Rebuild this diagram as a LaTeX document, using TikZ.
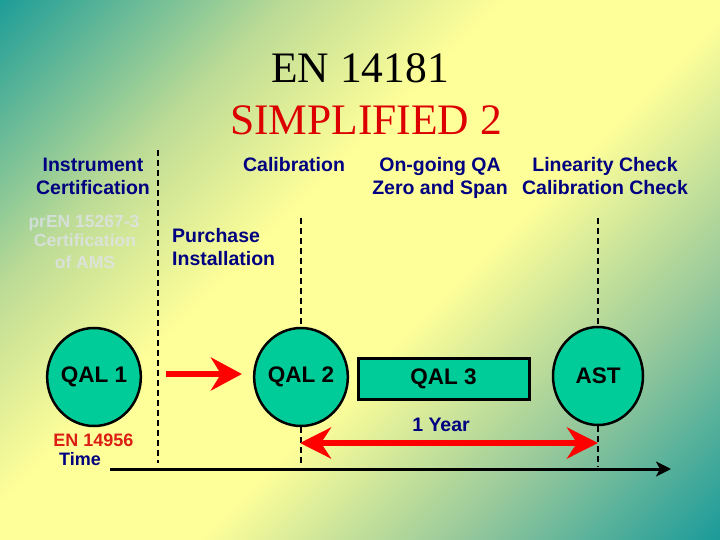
\documentclass[tikz,border=0pt]{standalone}
\usepackage{fontspec}
\setmainfont{Liberation Serif}
\newfontfamily\arial{Liberation Sans}
\usetikzlibrary{shapes.geometric,arrows.meta}
\definecolor{bgA}{RGB}{25,155,152}
\definecolor{bgB}{RGB}{190,220,150}
\definecolor{bgY}{RGB}{255,255,153}
\definecolor{bgC}{RGB}{150,200,155}
\definecolor{bgD}{RGB}{22,153,154}
\definecolor{navy}{RGB}{0,0,128}
\definecolor{qgreen}{RGB}{0,204,153}
\definecolor{tred}{RGB}{220,0,0}
\definecolor{enred}{RGB}{220,30,20}
\definecolor{faded}{RGB}{226,226,245}
\pgfdeclarehorizontalshading{bgshade}{100bp}{color(0bp)=(bgA); color(14bp)=(bgA); color(31bp)=(bgB); color(43bp)=(bgY); color(56bp)=(bgY); color(71bp)=(bgC); color(86bp)=(bgD); color(100bp)=(bgD)}
\begin{document}
\begin{tikzpicture}[x=1pt,y=-1pt,
  bluetxt/.style={font=\arial\bfseries\fontsize{19.5}{23}\selectfont, text=navy, anchor=base, inner sep=0pt},
  fadedtxt/.style={font=\arial\bfseries\fontsize{17.5}{21}\selectfont, text=faded, text opacity=0.7, anchor=base, inner sep=0pt},
  smalltxt/.style={font=\arial\bfseries\fontsize{18}{21}\selectfont, anchor=base, inner sep=0pt},
  titletxt/.style={font=\fontsize{43.5}{50}\selectfont, anchor=base, inner sep=0pt},
  qalnode/.style={ellipse, draw=black, line width=2.5pt, fill=qgreen, minimum width=90pt, minimum height=98pt, inner sep=0pt, font=\arial\bfseries\fontsize{22.5}{26}\selectfont},
  dashline/.style={line width=2pt, dash pattern=on 6pt off 4pt},
  redarrow/.style={draw=red, line width=6.5pt, -{Stealth[length=31pt,width=33pt,inset=10pt]}},
  redboth/.style={draw=red, line width=6.5pt, {Stealth[length=31pt,width=31pt,inset=10pt]}-{Stealth[length=31pt,width=31pt,inset=10pt]}}
]
\useasboundingbox (0,0) rectangle (720,540);
\shade[shading=bgshade, shading angle=-45] (0,0) rectangle (720,540);

% title
\node[titletxt] (t1) at (360,83) {EN 14181};
\node[titletxt, text=tred] (t2) at (366,135) {SIMPLIFIED 2};

% header texts
\node[bluetxt] (instr1) at (93,172) {Instrument};
\node[bluetxt] (instr2) at (93,195) {Certification};
\node[bluetxt] (cal) at (294,172) {Calibration};
\node[bluetxt] (ongo1) at (440,172) {On-going QA};
\node[bluetxt] (ongo2) at (440,195) {Zero and Span};
\node[bluetxt] (lin1) at (605,172) {Linearity Check};
\node[bluetxt] (lin2) at (605,195) {Calibration Check};

\node[fadedtxt] (pr1) at (84,227) {prEN 15267-3};
\node[fadedtxt] (pr2) at (85,247) {Certification};
\node[fadedtxt] (pr3) at (85,268) {of AMS};

\node[bluetxt, anchor=base west] (pur) at (172,242) {Purchase};
\node[bluetxt, anchor=base west] (inst) at (172,265) {Installation};

% nodes
\node[qalnode] (qal1) at (94,377) {QAL 1};
\node[qalnode] (qal2) at (301,377) {QAL 2};
\node[qalnode] (ast) at (598,376) {AST};
\node[draw=black, line width=3pt, fill=qgreen, minimum width=171pt, minimum height=41pt, inner sep=0pt,
      font=\arial\bfseries\fontsize{22.5}{26}\selectfont] (qal3) at (443.5,378.5) {\raisebox{-2pt}{QAL 3}};

% dashed lines
\coordinate (d1t) at (158,150);
\coordinate (d1b) at (158,463);
\coordinate (d2t) at (301,218);
\coordinate (d2b) at (301,467);
\coordinate (d3t) at (598,218);
\coordinate (d3b) at (598,467);
\draw[dashline] (d1t) -- (d1b);
\draw[dashline] (d2t) -- (qal2.north);
\draw[dashline] (qal2.south) -- (d2b);
\draw[dashline] (d3t) -- (ast.north);
\draw[dashline] (ast.south) -- (d3b);

% arrows
\draw[redarrow, shorten <=24pt, shorten >=11pt] ([yshift=3pt]qal1.east) -- ([yshift=3pt]qal2.west);
\coordinate (y1) at (300,443);
\coordinate (y2) at (598,443);
\draw[redboth] (y1) -- (y2);
\node[bluetxt] (year) at (441,431) {1 Year};

% time axis
\coordinate (ta) at (110,469);
\coordinate (tb) at (671,469);
\draw[line width=3pt, -{Stealth[length=15pt,width=15pt,inset=4pt]}] (ta) -- (tb);

\node[smalltxt, text=enred] (en) at (93.5,446) {EN 14956};
\node[smalltxt, text=navy] (time) at (80,465) {Time};
\end{tikzpicture}
\end{document}
